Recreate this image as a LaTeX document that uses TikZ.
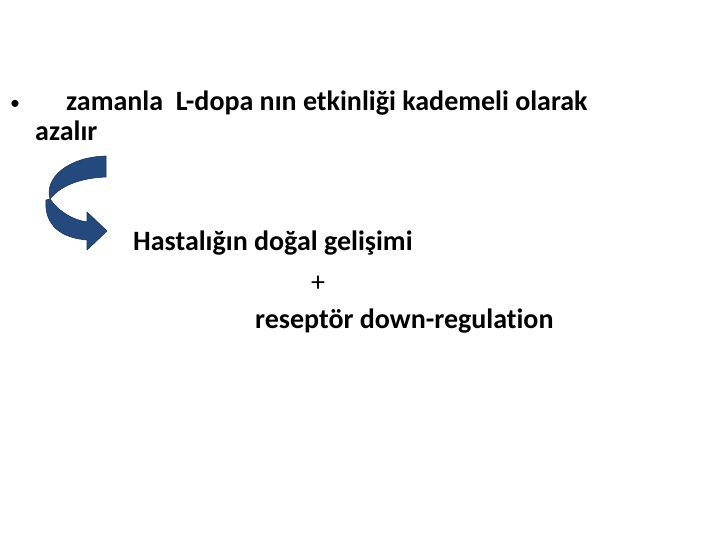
\documentclass[tikz,border=0pt]{standalone}
\usepackage{fontspec}
\setmainfont[Ligatures=NoCommon]{Carlito}
\usetikzlibrary{calc}
\definecolor{arrowblue}{HTML}{24497D}
\definecolor{arrowedge}{HTML}{1A3560}
\tikzset{
	slidetext/.style={anchor=base west, inner sep=0pt, font=\fontsize{28}{34}\selectfont\bfseries},
	ribbon/.style={fill=arrowblue, draw=arrowedge, line width=0.6pt, line join=round}
}

\begin{document}
\begin{tikzpicture}[x=1pt, y=-1pt]
		%%%%% START %%%%%
		
		\useasboundingbox[fill=white] (0, 0) rectangle (720, 540);
		
		\node[slidetext, font=\fontsize{20}{24}\selectfont] (bullet) at (10, 110) {•};
		\node[slidetext] (line1) at (66, 111) {zamanla\ \ L-dopa nın etkinliği kademeli olarak};
		\node[slidetext] (line2) at (35, 141) {azalır};
		
		% curved arrow, upper band
		\draw[ribbon] (106, 156) -- (106, 177) .. controls (80, 178) and (60, 186) .. (50, 199)
			.. controls (44, 178) and (68, 157) .. (106, 156) -- cycle;
		% curved arrow, lower band with head
		\draw[ribbon] (50, 199) .. controls (60, 213) and (74, 220) .. (87, 222) -- (87, 212)
			-- (107, 231) -- (87, 250) -- (87, 240) .. controls (62, 238) and (44, 226) .. (46, 200) -- cycle;
		
		\node[slidetext] (cause1) at (133, 251) {Hastalığın doğal gelişimi};
		\node[slidetext, anchor=base, font=\fontsize{28}{34}\selectfont] (plus) at (318, 291) {+};
		\node[slidetext] (cause2) at (255, 328) {reseptör down-regulation};
		
		%%%%% END %%%%%
	\end{tikzpicture}
\end{document}
